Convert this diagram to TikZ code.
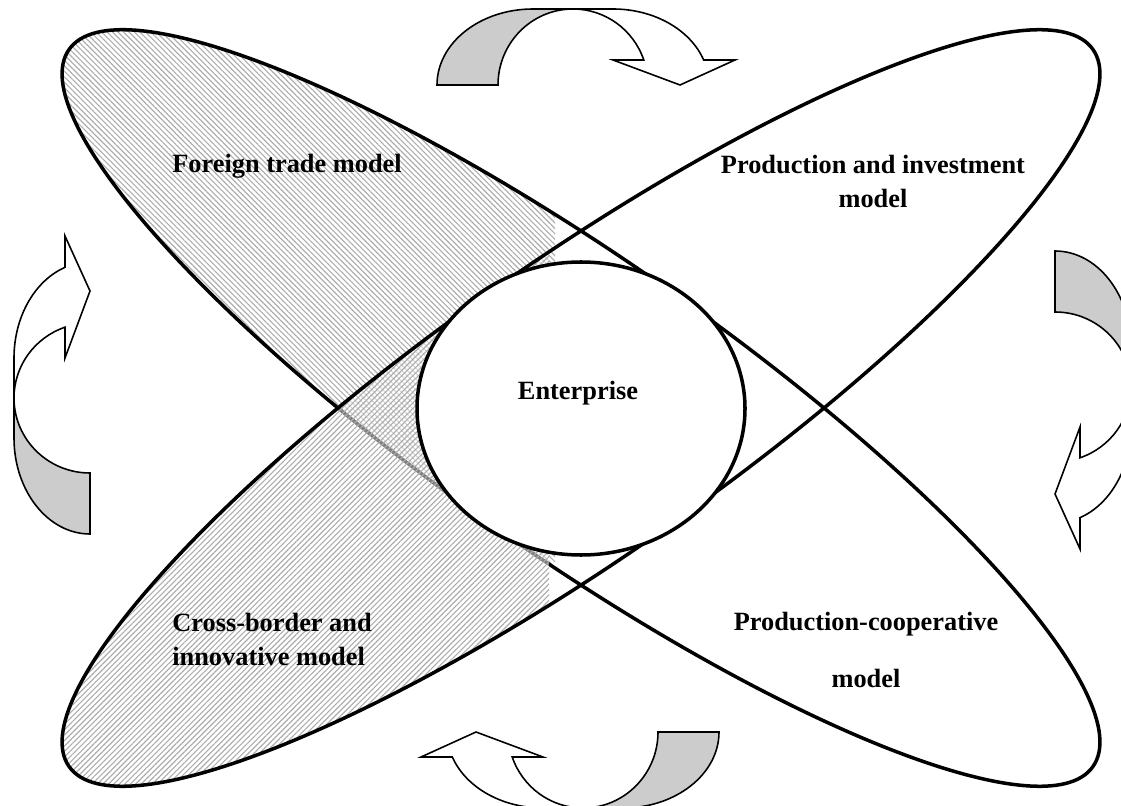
\documentclass[tikz,border=0pt]{standalone}
\usepackage{fontspec}
\setmainfont{Liberation Serif}
\usetikzlibrary{patterns.meta}
\definecolor{bandgray}{gray}{0.8}
\definecolor{hatchgray}{gray}{0.68}
\tikzset{
  orbit/.style={line width=2pt},
  modeltext/.style={font=\fontsize{15}{19.8}\selectfont\bfseries, inner sep=0pt},
  arrowline/.style={line width=0.9pt, line join=miter},
  hatchnw/.style={pattern={Lines[angle=-45,distance=2.2pt,line width=0.65pt]}, pattern color=hatchgray},
  hatchne/.style={pattern={Lines[angle=45,distance=2.2pt,line width=0.65pt]}, pattern color=hatchgray},
  bentarrow/.pic={
    \filldraw[arrowline,fill=bandgray] (-136,0) arc[start angle=180,end angle=90,x radius=96,y radius=76]
      -- (0,76) arc[start angle=90,end angle=180,x radius=75,y radius=76] -- cycle;
    \filldraw[arrowline,fill=white] (0,76) -- (40,76) arc[start angle=90,end angle=19.2,x radius=96,y radius=76]
      -- (162,25) -- (107,0) -- (40,25) -- (70.8,25) arc[start angle=19.2,end angle=90,x radius=75,y radius=76] -- cycle;
  }
}
\begin{document}
\begin{tikzpicture}[x=0.02cm,y=0.02cm]
	\useasboundingbox (0,0) rectangle (1121,805);
	\coordinate (o) at (581,397);
	\begin{scope}
		\clip[rotate around={-35:(o)}] (o) ellipse [x radius=625,y radius=147];
		\fill[hatchnw] (0,0) rectangle (555,805);
	\end{scope}
	\draw[orbit,rotate around={-35:(o)}] (o) ellipse [x radius=625,y radius=147];
	\begin{scope}
		\clip[rotate around={35:(o)}] (o) ellipse [x radius=625,y radius=147];
		\fill[white,fill opacity=0.5] (0,0) rectangle (549,805);
		\fill[hatchne] (0,0) rectangle (549,805);
	\end{scope}
	\draw[orbit,rotate around={35:(o)}] (o) ellipse [x radius=625,y radius=147];
	\draw[orbit,fill=white] (581,396.5) ellipse [x radius=164,y radius=146.5];

	\node[modeltext,anchor=base west] (ft) at (172,632) {Foreign trade model};
	\node[modeltext,align=center] (pi) at (873,623.5) {Production and investment\\model};
	\node[modeltext,anchor=base] (ent) at (578,405) {Enterprise};
	\node[modeltext,align=left,anchor=west] (cb) at (172,165.5) {Cross-border and\\innovative model};
	\node[modeltext,align=center] (pc) at (866,155) {Production-cooperative\\[0.46cm]model};

	\pic at (573,720) {bentarrow};
	\pic[rotate=-90] at (1055,418) {bentarrow};
	\pic[rotate=180] at (583,73) {bentarrow};
	\pic[rotate=90] at (90,407) {bentarrow};
\end{tikzpicture}
\end{document}
